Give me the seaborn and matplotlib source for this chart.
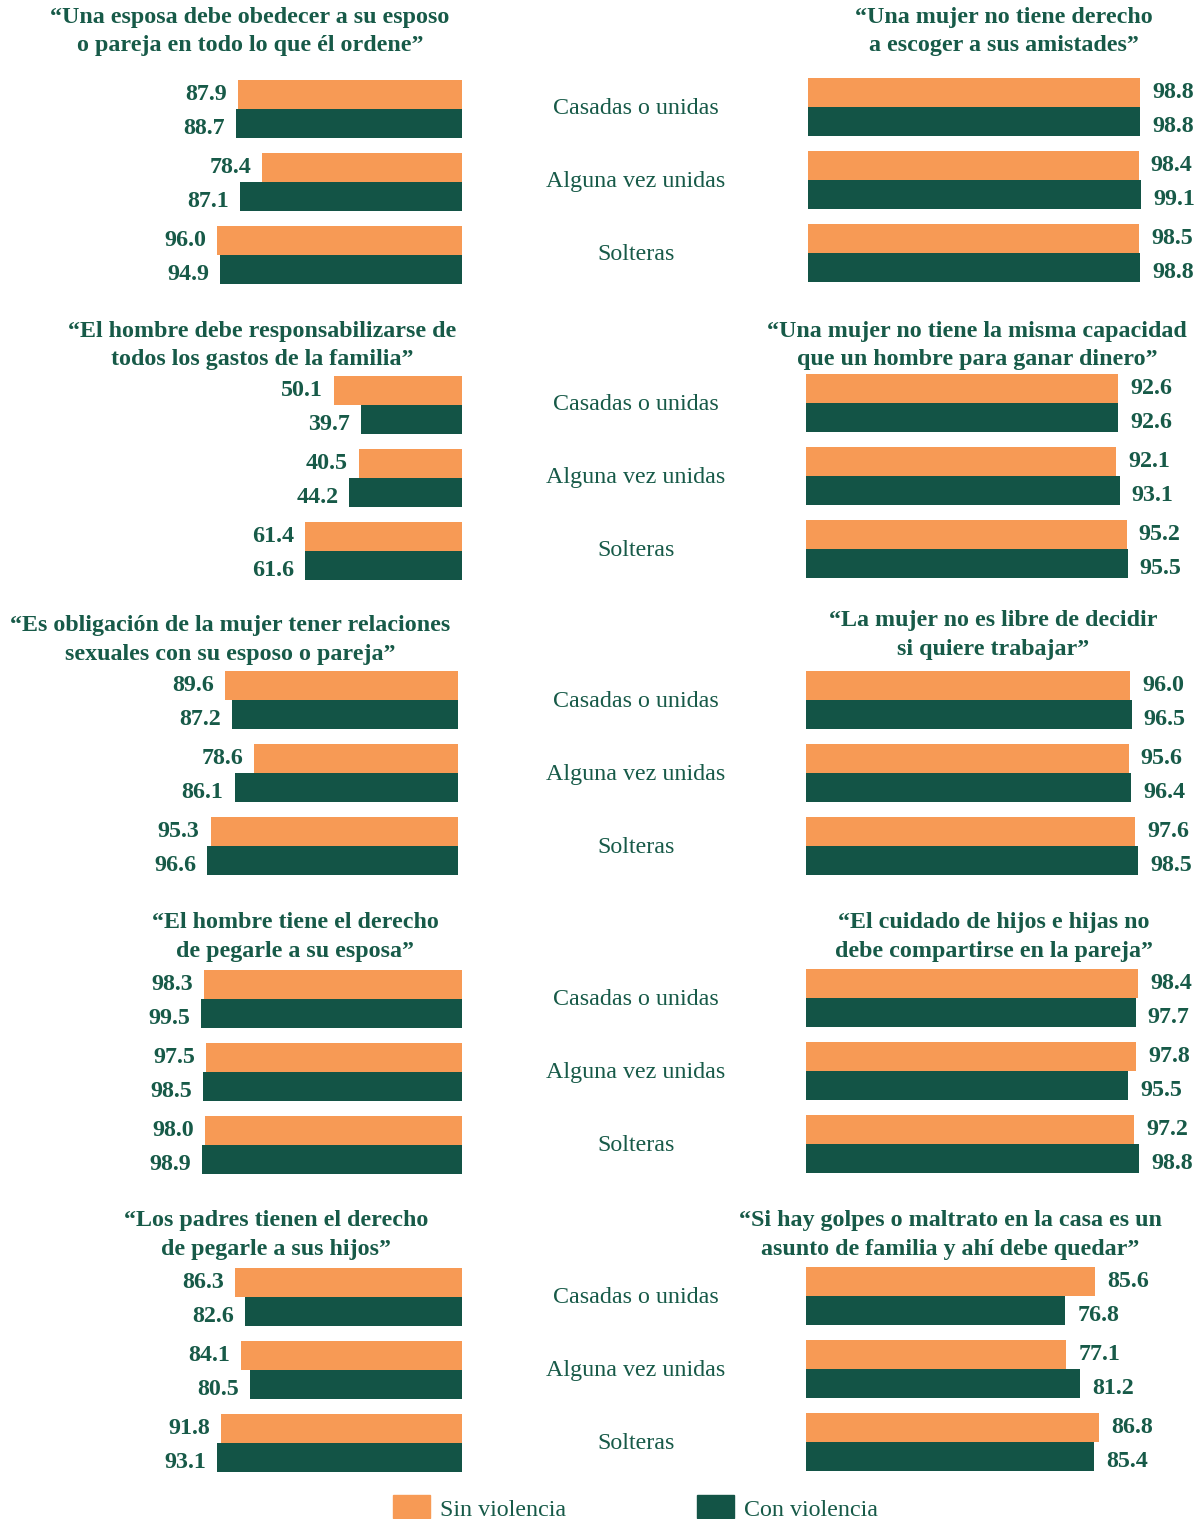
import matplotlib
matplotlib.use("Agg")
import matplotlib.pyplot as plt
import matplotlib.transforms as mtransforms
from matplotlib.patches import Rectangle
import pandas as pd
import seaborn as sns

# ---------------------------------------------------------------- data
categorias = ["Casadas o unidas", "Alguna vez unidas", "Solteras"]
grupos = ["Sin violencia", "Con violencia"]

titulos_izq = [
    "“Una esposa debe obedecer a su esposo\no pareja en todo lo que él ordene”",
    "“El hombre debe responsabilizarse de\ntodos los gastos de la familia”",
    "“Es obligación de la mujer tener relaciones\nsexuales con su esposo o pareja”",
    "“El hombre tiene el derecho\nde pegarle a su esposa”",
    "“Los padres tienen el derecho\nde pegarle a sus hijos”",
]
titulos_der = [
    "“Una mujer no tiene derecho\na escoger a sus amistades”",
    "“Una mujer no tiene la misma capacidad\nque un hombre para ganar dinero”",
    "“La mujer no es libre de decidir\nsi quiere trabajar”",
    "“El cuidado de hijos e hijas no\ndebe compartirse en la pareja”",
    "“Si hay golpes o maltrato en la casa es un\nasunto de familia y ahí debe quedar”",
]

sin_izq = [[87.9, 78.4, 96.0], [50.1, 40.5, 61.4], [89.6, 78.6, 95.3],
           [98.3, 97.5, 98.0], [86.3, 84.1, 91.8]]
con_izq = [[88.7, 87.1, 94.9], [39.7, 44.2, 61.6], [87.2, 86.1, 96.6],
           [99.5, 98.5, 98.9], [82.6, 80.5, 93.1]]
sin_der = [[98.8, 98.4, 98.5], [92.6, 92.1, 95.2], [96.0, 95.6, 97.6],
           [98.4, 97.8, 97.2], [85.6, 77.1, 86.8]]
con_der = [[98.8, 99.1, 98.8], [92.6, 93.1, 95.5], [96.5, 96.4, 98.5],
           [97.7, 95.5, 98.8], [76.8, 81.2, 85.4]]

# ---------------------------------------------------------------- style
NARANJA = "#F79A55"
VERDE = "#135446"
TEXTO = "#175A48"
paleta = {"Sin violencia": NARANJA, "Con violencia": VERDE}
FS = 17.3

sns.set_style("white")
plt.rcParams["font.family"] = ["Liberation Serif", "DejaVu Serif"]

W, H = 1202, 1519
fig = plt.figure(figsize=(W / 100, H / 100), dpi=100)

# layout in pixels: (zero line x, px per unit, first-group centre y)
lay_izq = [(462, 2.55, 109), (462, 2.55, 405), (458, 2.595, 700),
           (462, 2.625, 999), (462, 2.628, 1297)]
lay_der = [(808, 3.36, 107), (806, 3.37, 403), (806, 3.375, 700),
           (806, 3.374, 998), (806, 3.375, 1296)]
tit_izq = [(250, 16), (262, 330), (230, 624), (295, 921), (276, 1219)]
tit_der = [(1004, 16), (977, 330), (993, 619), (994, 921), (950, 1219)]
PITCH = 73
LINE = 28.5


def panel(sin, con, zero_x, escala, cy0, lado):
    top = cy0 - PITCH / 2
    alto = 3 * PITCH
    if lado == "izq":
        x0 = 100
        ancho = zero_x - x0
    else:
        x0 = zero_x
        ancho = 1200 - zero_x
    ax = fig.add_axes([x0 / W, 1 - (top + alto) / H, ancho / W, alto / H])
    df = pd.DataFrame({
        "categoria": categorias * 2,
        "grupo": [grupos[0]] * 3 + [grupos[1]] * 3,
        "valor": list(sin) + list(con),
    })
    sns.barplot(data=df, y="categoria", x="valor", hue="grupo",
                order=categorias, hue_order=grupos, palette=paleta,
                orient="h", width=0.795, saturation=1, legend=False,
                errorbar=None, linewidth=0, ax=ax)
    lim = ancho / escala
    if lado == "izq":
        ax.set_xlim(lim, 0)
    else:
        ax.set_xlim(0, lim)
    ax.set_ylim(2.5, -0.5)
    ax.axis("off")
    # upper label nudged up, lower label nudged down
    for cont, vals, dy in zip(ax.containers, [sin, con], [-6, -10]):
        for patch, v in zip(cont.patches, vals):
            yc = patch.get_y() + patch.get_height() / 2
            dx = -11 if lado == "izq" else 12
            ax.annotate(f"{v:.1f}", xy=(v, yc), xytext=(dx, dy),
                        textcoords="offset pixels",
                        ha="right" if lado == "izq" else "left",
                        va="baseline", fontsize=FS, fontweight="bold",
                        color=TEXTO)
    return ax


def titulo(texto, x, y):
    for i, linea in enumerate(texto.split("\n")):
        fig.text(x / W, 1 - (y + i * LINE + 7) / H, linea, ha="center",
                 va="baseline", fontsize=FS, fontweight="bold", color=TEXTO)


for i in range(5):
    panel(sin_izq[i], con_izq[i], *lay_izq[i], "izq")
    axd = panel(sin_der[i], con_der[i], *lay_der[i], "der")
    titulo(titulos_izq[i], *tit_izq[i])
    titulo(titulos_der[i], *tit_der[i])
    trans = mtransforms.blended_transform_factory(fig.transFigure, axd.transData)
    trans = mtransforms.offset_copy(trans, fig=fig, x=0, y=-7, units="dots")
    for j, cat in enumerate(categorias):
        fig.text(636 / W, j, cat, transform=trans, ha="center",
                 va="baseline", fontsize=FS, color=TEXTO)

# legend
for (xr, etiqueta, color) in [(393, grupos[0], NARANJA), (697, grupos[1], VERDE)]:
    fig.patches.append(Rectangle((xr / W, 1 - 1518 / H), 37 / W, 23 / H,
                                 transform=fig.transFigure, color=color))
    fig.text((xr + 47) / W, 1 - 1516 / H, etiqueta, ha="left",
             va="baseline", fontsize=FS, color=TEXTO)

fig.savefig("out.png", dpi=100)
